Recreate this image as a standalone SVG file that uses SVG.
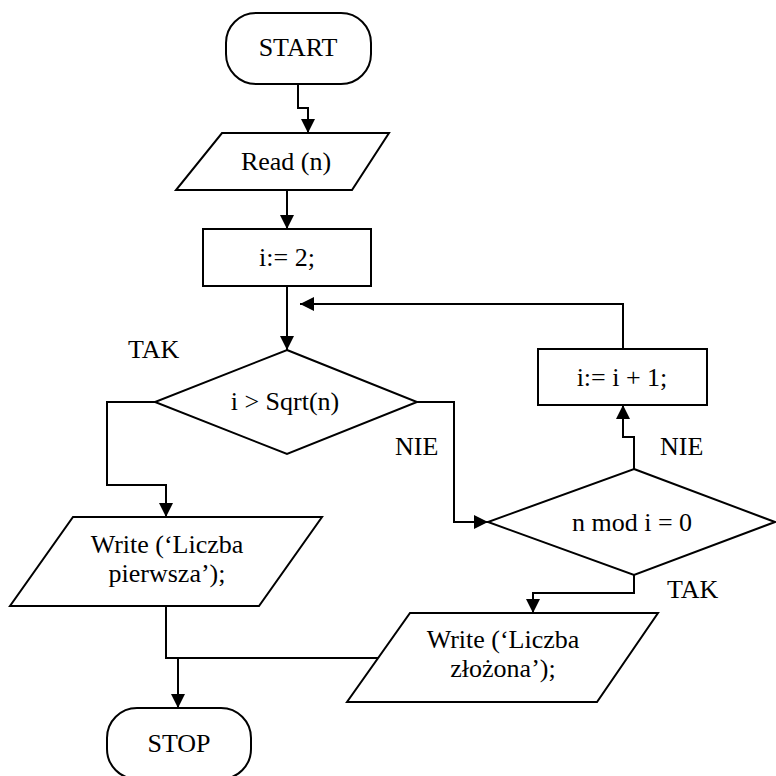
<svg xmlns="http://www.w3.org/2000/svg" width="776" height="776" viewBox="0 0 776 776" font-family="Liberation Serif, serif" font-size="26">
<defs>
<marker id="ah" viewBox="0 0 14 14" refX="14" refY="7" markerWidth="14" markerHeight="14" markerUnits="userSpaceOnUse" orient="auto">
<path d="M0,0 L14,7 L0,14 Z" fill="#000"/>
</marker>
<style>
.s{fill:#fff;stroke:#000;stroke-width:2}
.c{fill:none;stroke:#000;stroke-width:2}
.t{text-anchor:middle}
</style>
</defs>
<rect width="776" height="776" fill="#fff"/>
<g id="connectors">
<path class="c" d="M298,84 V108 H308 V133" marker-end="url(#ah)"/>
<path class="c" d="M287,190 V229" marker-end="url(#ah)"/>
<path class="c" d="M287,286 V350" marker-end="url(#ah)"/>
<path class="c" d="M623,349 V304 H300" marker-end="url(#ah)"/>
<path class="c" d="M155,402 H107 V485 H166 V517" marker-end="url(#ah)"/>
<path class="c" d="M417,402 H454 V522 H488" marker-end="url(#ah)"/>
<path class="c" d="M634,469 V437 H623 V405" marker-end="url(#ah)"/>
<path class="c" d="M634,575 V593 H533 V613" marker-end="url(#ah)"/>
<path class="c" d="M166,606 V658 H378"/>
<path class="c" d="M178,658 V708" stroke-width="2.5" marker-end="url(#ah)"/>
<text x="128" y="358">TAK</text>
<text x="395" y="455">NIE</text>
<text x="660" y="455">NIE</text>
<text x="667" y="598">TAK</text>
</g>
<g id="start">
<rect class="s" x="226" y="13" width="145" height="71" rx="30" ry="30"/>
<text class="t" x="298" y="56">START</text>
</g>
<g id="read">
<polygon class="s" points="222,133 389,133 352,190 176,190"/>
<text class="t" x="286" y="170">Read (n)</text>
</g>
<g id="init">
<rect class="s" x="203" y="229" width="168" height="57"/>
<text class="t" x="287" y="266">i:= 2;</text>
</g>
<g id="cond1">
<polygon class="s" points="287,350 417,402 287,454 155,402"/>
<text class="t" x="285" y="410">i &gt; Sqrt(n)</text>
</g>
<g id="incr">
<rect class="s" x="538" y="349" width="169" height="56"/>
<text class="t" x="622" y="386">i:= i + 1;</text>
</g>
<g id="cond2">
<polygon class="s" points="634,469 775,522 634,575 488,522"/>
<text class="t" x="632" y="531">n mod i = 0</text>
</g>
<g id="prime">
<polygon class="s" points="73,517 322,517 259,606 10,606"/>
<text class="t" x="167" y="553">Write (‘Liczba</text>
<text class="t" x="167" y="582">pierwsza’);</text>
</g>
<g id="composite">
<polygon class="s" points="410,613 658,613 597,702 347,702"/>
<text class="t" x="503" y="648">Write (‘Liczba</text>
<text class="t" x="503" y="677">złożona’);</text>
</g>
<g id="stop">
<rect class="s" x="107" y="708" width="144" height="71" rx="30" ry="30"/>
<text class="t" x="179" y="752">STOP</text>
</g>
</svg>
